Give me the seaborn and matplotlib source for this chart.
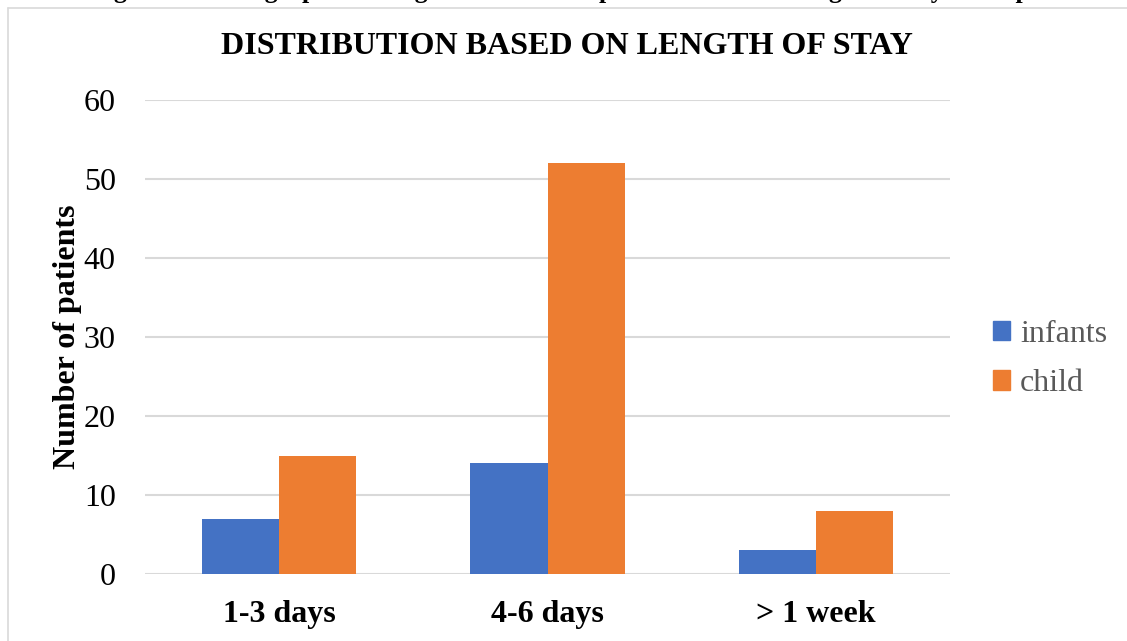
import matplotlib
matplotlib.use("Agg")
import matplotlib.pyplot as plt
import seaborn as sns
import pandas as pd
from matplotlib.patches import Rectangle

# Length-of-stay groups and patient counts
stay_groups = ["1-3 days", "4-6 days", "> 1 week"]
infants = [7, 14, 3]
child = [15, 52, 8]
series_names = ["infants", "child"]
y_ticks = [0, 10, 20, 30, 40, 50, 60]

df = pd.DataFrame({
    "stay": stay_groups * 2,
    "group": [series_names[0]] * 3 + [series_names[1]] * 3,
    "count": infants + child,
})

sns.set_theme(style="white")
plt.rcParams["font.family"] = ["Liberation Serif", "DejaVu Serif"]
for key in ("text.color", "axes.labelcolor", "xtick.color", "ytick.color"):
    plt.rcParams[key] = "#000000"

W, H = 1127, 641
fig = plt.figure(figsize=(W / 100, H / 100), dpi=100)
ax = fig.add_axes([145 / W, 1 - 574 / H, (950 - 145) / W, (574 - 100) / H])

palette = {"infants": "#4472c4", "child": "#ed7d31"}
sns.barplot(data=df, x="stay", y="count", hue="group", palette=palette,
            width=0.574, gap=0, saturation=1, ax=ax, legend=False,
            linewidth=0, zorder=3)

ax.set_ylim(0, 60)
ax.set_yticks(y_ticks)
ax.set_yticklabels([str(t) for t in y_ticks], fontsize=23)
ax.set_xlim(-0.5, 2.5)
for lbl in ax.get_xticklabels():
    lbl.set_fontsize(23)
    lbl.set_fontweight("bold")
ax.tick_params(axis="y", length=0, pad=21)
ax.tick_params(axis="x", length=0, pad=19)
ax.grid(axis="y", color="#d9d9d9", linewidth=1.5, zorder=0)
ax.set_axisbelow(True)
for s in ax.spines.values():
    s.set_visible(False)
ax.set_xlabel("")
ax.set_ylabel("Number of patients", fontsize=23, fontweight="bold", labelpad=1)

# Chart title
fig.text(567 / W, 1 - 47 / H, "DISTRIBUTION BASED ON LENGTH OF STAY",
         ha="center", va="center", fontsize=23, fontweight="bold")

# Caption sitting above the chart frame
fig.text(578 / W, 1 - 3 / H,
         "Figure 4.5: Bar graph showing distribution of patients based on length of stay in hospital",
         ha="center", va="bottom", fontsize=18.5, fontweight="bold")

# Chart frame (top and left edges)
fig.add_artist(plt.Line2D([8 / W, 8 / W], [0, 1 - 8 / H], color="#d9d9d9",
                          linewidth=1.2, transform=fig.transFigure))
fig.add_artist(plt.Line2D([8 / W, 1], [1 - 8 / H, 1 - 8 / H], color="#d9d9d9",
                          linewidth=1.2, transform=fig.transFigure))

# Legend
handles = [Rectangle((0, 0), 1, 1, color=palette[n]) for n in series_names]
leg = fig.legend(handles, series_names, loc="center left",
                 bbox_to_anchor=(964 / W, 1 - 359 / H), frameon=False,
                 fontsize=23, handlelength=0.55, handleheight=0.55,
                 handletextpad=0.3, labelspacing=0.65)
for t in leg.get_texts():
    t.set_color("#595959")

fig.savefig("out.png", dpi=100)
